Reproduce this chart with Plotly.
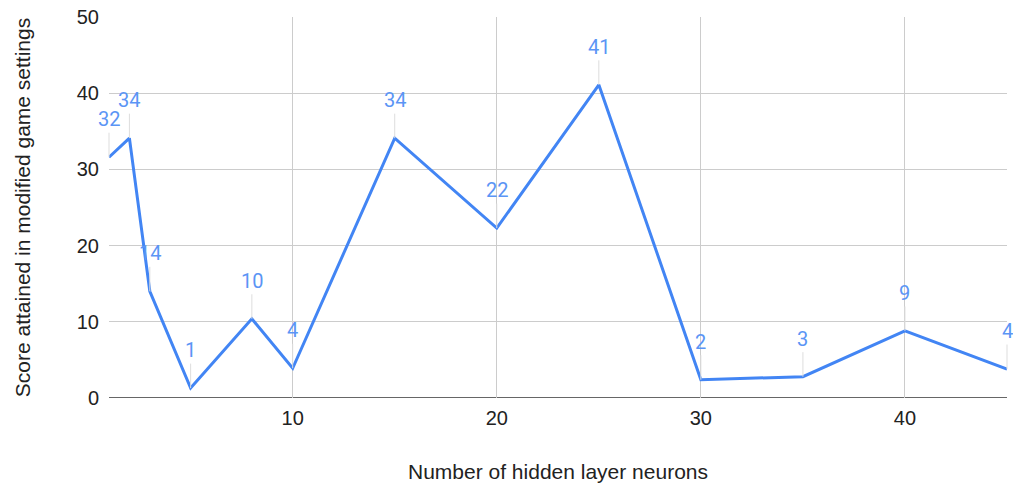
import plotly.graph_objects as go

# Hidden-layer size vs. score in modified game settings
neurons = [1, 2, 3, 5, 8, 10, 15, 20, 25, 30, 35, 40, 45]
scores = [31.6, 34.1, 14.0, 1.3, 10.4, 3.9, 34.1, 22.3, 41.1, 2.4, 2.8, 8.8, 3.8]

x_ticks = [10, 20, 30, 40]
y_ticks = [0, 10, 20, 30, 40, 50]

LINE_BLUE = "#4285F4"
LABEL_BLUE = "#5B95F5"

fig = go.Figure()
fig.add_trace(go.Scatter(
    x=neurons, y=scores, mode="lines",
    line=dict(color=LINE_BLUE, width=3),
    hoverinfo="x+y", showlegend=False,
))

# Value labels with a thin stem down to each point
for xv, yv in zip(neurons, scores):
    fig.add_annotation(
        x=xv, y=yv, text=f"{yv:.0f}",
        showarrow=True, arrowhead=0, arrowwidth=1, arrowcolor="#dddddd",
        ax=0, ay=-38, standoff=0,
        font=dict(family="Roboto, Arial, sans-serif", size=20, color=LABEL_BLUE),
    )

fig.update_layout(
    width=1013, height=489,
    margin=dict(l=109, r=6, t=17, b=91),
    paper_bgcolor="white", plot_bgcolor="white",
    font=dict(family="Liberation Sans, Arial, sans-serif", size=20, color="#222222"),
    xaxis=dict(
        range=[1, 45], tickvals=x_ticks, showgrid=True, gridcolor="#cccccc",
        gridwidth=1, zeroline=False, showline=False, ticks="",
        ticklabelstandoff=6,
        title=dict(text="Number of hidden layer neurons", standoff=36,
                   font=dict(size=21, color="#222222")),
        tickfont=dict(size=20, color="#222222"),
    ),
    yaxis=dict(
        range=[0, 50], tickvals=y_ticks, showgrid=True, gridcolor="#cccccc",
        gridwidth=1, zeroline=False, showline=False, ticks="",
        ticklabelstandoff=9,
        title=dict(text="Score attained in modified game settings", standoff=40,
                   font=dict(size=21, color="#222222")),
        tickfont=dict(size=20, color="#222222"),
    ),
)

# Darker baseline at y = 0
fig.add_shape(type="line", xref="paper", yref="y", x0=0, x1=1, y0=0, y1=0,
              line=dict(color="#333333", width=1.5), layer="below")

fig.write_html("out.html")
